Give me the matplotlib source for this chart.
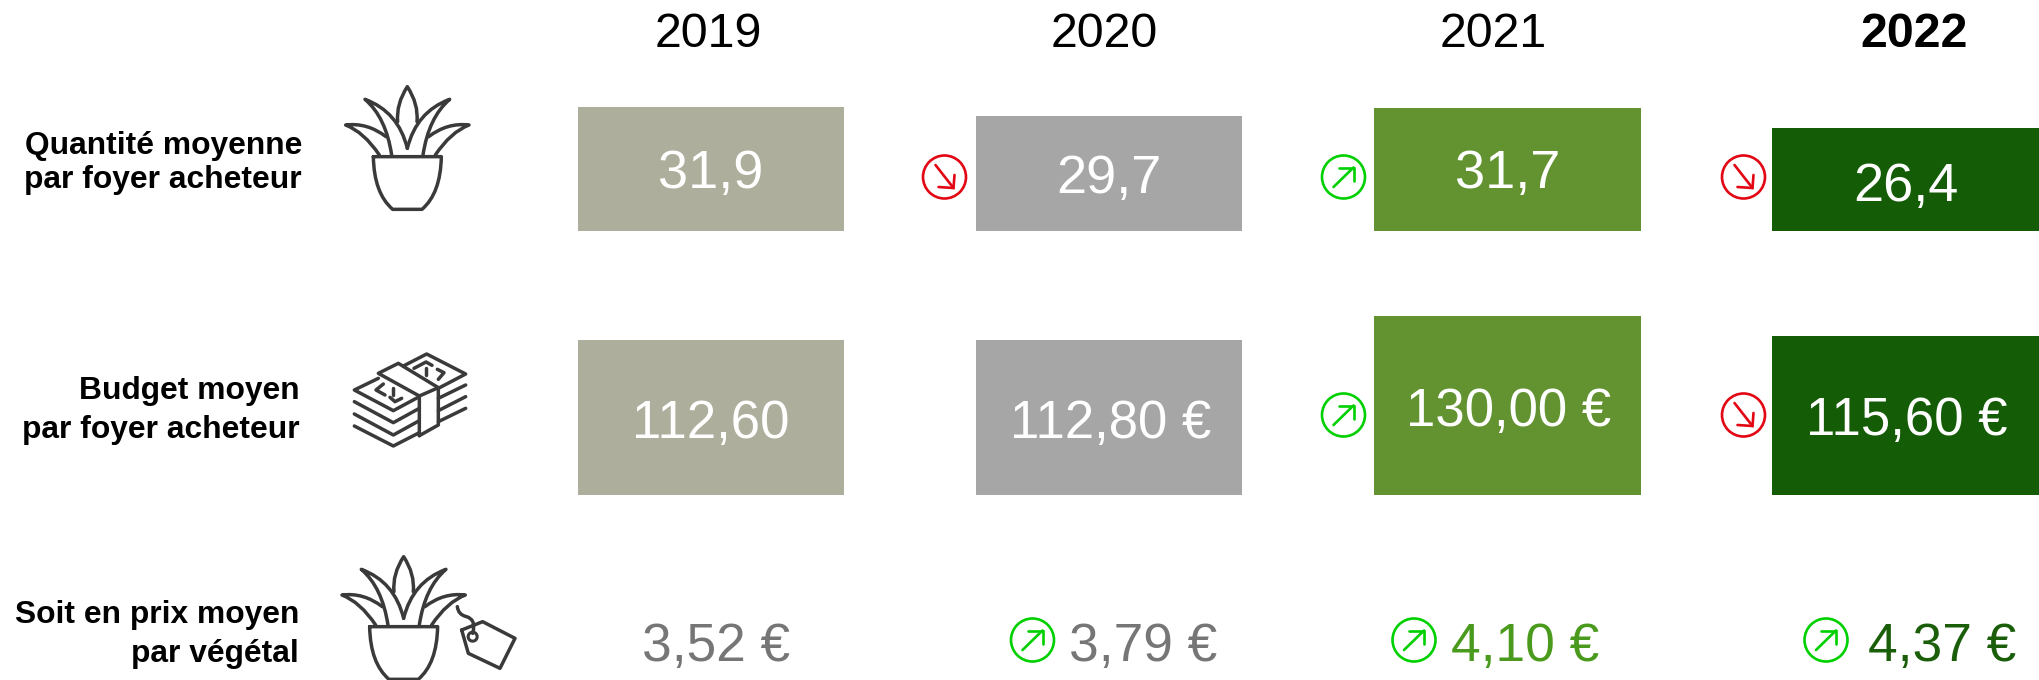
import matplotlib
matplotlib.use("Agg")
import matplotlib.pyplot as plt
from matplotlib.path import Path
from matplotlib.patches import PathPatch, Circle

plt.rcParams['font.family'] = ['Liberation Sans', 'DejaVu Sans']

W, H = 2039, 680

years = ['2019', '2020', '2021', '2022']
quantity = [31.9, 29.7, 31.7, 26.4]
budget = [112.60, 112.80, 130.00, 115.60]
quantity_labels = ['31,9', '29,7', '31,7', '26,4']
budget_labels = ['112,60', '112,80 €', '130,00 €', '115,60 €']
price_labels = ['3,52 €', '3,79 €', '4,10 €', '4,37 €']
quantity_trend = [None, 'down', 'up', 'down']
budget_trend = [None, None, 'up', 'down']
price_trend = [None, 'up', 'up', 'up']
row_titles = [['Quantité moyenne', 'par foyer acheteur'],
              ['Budget moyen', 'par foyer acheteur'],
              ['Soit en prix moyen', 'par végétal']]
bar_colors = ['#ADAE9B', '#A6A6A6', '#629330', '#155C07']
price_colors = ['#767676', '#767676', '#4A9A1E', '#1A5E0A']
ICON = '#3A3A3A'
RED = '#E30613'
GREEN = '#00D000'

fig = plt.figure(figsize=(W / 100, H / 100), dpi=100, facecolor='white')


def bar_axes(base_px, px_per_unit, values):
    top_px = 60
    ax = fig.add_axes([0, (H - base_px) / H, 1, (base_px - top_px) / H])
    ax.set_ylim(0, (base_px - top_px) / px_per_unit)
    ax.set_xlim(-711 / 398.2, (W - 711) / 398.2)
    ax.axis('off')
    ax.bar(range(len(values)), values, width=266.5 / 398.2, color=bar_colors, linewidth=0)
    return ax


bar_axes(230.5, 3.87, quantity)
bar_axes(494.5, 1.374, budget)

ov = fig.add_axes([0, 0, 1, 1], facecolor='none')
ov.set_xlim(0, W)
ov.set_ylim(H, 0)
ov.axis('off')

# Years
year_x = [708, 1104, 1493, 1914]
for x, y, b in zip(year_x, years, [0, 0, 0, 1]):
    ov.text(x, 47, y, ha='center', va='baseline', fontsize=34.8, color='black',
            fontweight='bold' if b else 'normal')

# Row titles
title_pos = [(302, [154, 188]), (299.5, [399, 438]), (299, [623, 662])]
for lines, (x, ys) in zip(row_titles, title_pos):
    for line, y in zip(lines, ys):
        ov.text(x, y, line, ha='right', va='baseline', fontsize=22.9,
                fontweight='bold', color='black')

# Bar labels
q_x = [711, 1109, 1508, 1906]
q_y = [188, 193, 188, 201]
b_x = [711, 1110.5, 1509, 1907]
b_y = [438, 438, 426, 435]
for x, y, s in zip(q_x, q_y, quantity_labels):
    ov.text(x, y, s, ha='center', va='baseline', fontsize=39, color='white')
for x, y, s in zip(b_x, b_y, budget_labels):
    ov.text(x, y, s, ha='center', va='baseline', fontsize=38, color='white')

# Price labels
p_x = [716, 1143, 1525.5, 1942]
for x, s, c in zip(p_x, price_labels, price_colors):
    ov.text(x, 661, s, ha='center', va='baseline', fontsize=38.3, color=c)


def trend(cx, cy, kind):
    col = GREEN if kind == 'up' else RED
    ov.add_patch(Circle((cx, cy), 21.5, fill=False, ec=col, lw=1.9))
    if kind == 'up':
        pts = [[(-10, 10), (10, -9.5)], [(-5, -9.5), (10, -9.5), (10, 4)]]
    else:
        pts = [[(-9, -12), (9, 11)], [(-6, 10), (9, 11), (10, -2)]]
    for seg in pts:
        ov.plot([cx + p[0] for p in seg], [cy + p[1] for p in seg], color=col, lw=1.9,
                solid_capstyle='round', solid_joinstyle='miter')


q_cx = [None, 944.5, 1343.5, 1743.5]
b_cx = [None, None, 1343.5, 1743.5]
p_cx = [None, 1032.5, 1414, 1826]
for cxs, trs, cy in [(q_cx, quantity_trend, 177), (b_cx, budget_trend, 415), (p_cx, price_trend, 640)]:
    for cx, k in zip(cxs, trs):
        if k:
            trend(cx, cy, k)


def stroke(verts, codes, ox, oy, lw=2.5):
    # verts are given in 3x-zoom pixels relative to the origin (ox, oy)
    v = [(ox + a / 3, oy + b / 3) for a, b in verts]
    ov.add_patch(PathPatch(Path(v, codes), fill=False, ec=ICON, lw=lw,
                           capstyle='round', joinstyle='round', clip_on=True))


M, L, C3 = Path.MOVETO, Path.LINETO, Path.CURVE3


def plant(ox, oy):
    def mir(p):
        return [(464 - a, b) for a, b in p]
    center = [(203, 125), (198, 72), (232, 20), (266, 72), (261, 125)]
    stroke(center, [M, C3, C3, C3, C3], ox, oy)
    leaf = [(185, 225), (168, 112), (105, 58), (205, 95), (232, 205)]
    stroke(leaf, [M, C3, C3, C3, C3], ox, oy)
    stroke(mir(leaf), [M, C3, C3, C3, C3], ox, oy)
    outer = [(148, 225), (102, 156), (47, 135), (112, 127), (168, 170)]
    stroke(outer, [M, C3, C3, C3, C3], ox, oy)
    stroke(mir(outer), [M, C3, C3, C3, C3], ox, oy)
    pot = [(130, 230), (334, 230), (332, 340), (276, 388), (188, 388), (132, 340), (130, 230)]
    stroke(pot, [M, L, C3, C3, L, C3, C3], ox, oy)


plant(330, 80)
plant(326.3, 550)

# Tag attached to the third plant
ox, oy = 330, 550
stroke([(395, 240), (458, 215), (555, 265), (510, 355), (415, 310), (395, 240)],
       [M, L, L, L, L, L], ox, oy)
stroke([(382, 170), (385, 195), (410, 200), (440, 210), (428, 250)], [M, C3, C3, C3, C3], ox, oy)
ov.add_patch(Circle((ox + 428 / 3, oy + 260 / 3), 4.5, fill=False, ec=ICON, lw=2.2))

# Banknotes
ox, oy = 340, 340
polys = [
    [(238, 287), (238, 168), (115, 100), (175, 70), (295, 143), (295, 255), (238, 287)],
    [(238, 168), (295, 143)],
    [(190, 78), (260, 42), (377, 102), (295, 145)],
    [(115, 115), (43, 150), (160, 212), (238, 170)],
    [(43, 185), (160, 248), (238, 205)],
    [(43, 222), (160, 285), (238, 242)],
    [(43, 258), (160, 318), (238, 278)],
    [(295, 175), (377, 135)],
    [(295, 212), (377, 170)],
    [(295, 245), (377, 205)],
    [(222, 85), (258, 66), (276, 76)],
    [(292, 88), (312, 98), (295, 118)],
    [(258, 85), (258, 105)],
    [(130, 132), (108, 150), (135, 165)],
    [(150, 172), (165, 185), (185, 175)],
    [(160, 143), (160, 165)],
]
for poly in polys:
    stroke(poly, [M] + [L] * (len(poly) - 1), ox, oy)

fig.savefig('out.png', dpi=100, facecolor='white')
